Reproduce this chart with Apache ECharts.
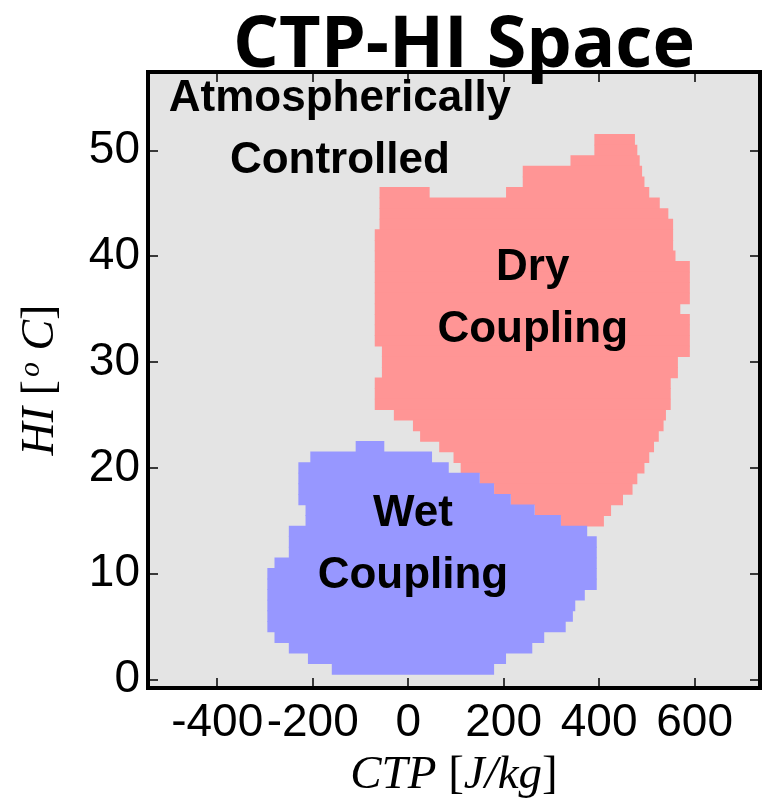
<!DOCTYPE html>
<html>
<head>
<meta charset="utf-8">
<script src="https://cdn.jsdelivr.net/npm/echarts@6/dist/echarts.min.js"></script>
<style>
  html, body { margin: 0; padding: 0; background: #ffffff; }
  #chart { width: 771px; height: 808px; }
</style>
</head>
<body>
<div id="chart"></div>
<script>
// Axis ticks
const ctpTicks = [-400, -200, 0, 200, 400, 600];
const hiTicks = [0, 10, 20, 30, 40, 50];

// Dry-coupling regime, one row per 1 °C HI bin: [HI, CTP start, CTP end]
const dryRows = [
  [51, 390, 475], [50, 390, 480], [49, 340, 485], [48, 240, 490],
  [47, 240, 495], [46, -60, 45], [46, 205, 505], [45, -60, 527],
  [44, -60, 545], [43, -60, 555], [42, -70, 555], [41, -70, 555],
  [40, -70, 560], [39, -70, 590], [38, -70, 590], [37, -70, 590],
  [36, -70, 590], [35, -70, 570], [34, -70, 590], [33, -70, 590],
  [32, -70, 590], [31, -55, 590], [30, -55, 565], [29, -55, 565],
  [28, -70, 550], [27, -70, 550], [26, -70, 550], [25, -30, 540],
  [24, 10, 535], [23, 25, 525], [22, 65, 515], [21, 95, 505],
  [20, 110, 495], [19, 150, 480], [18, 180, 470], [17, 215, 450],
  [16, 265, 425], [15, 320, 410]
];

// Wet-coupling regime: [HI, CTP start, CTP end]
const wetRows = [
  [22, -110, -50], [21, -205, 50], [20, -230, 85], [19, -230, 150],
  [18, -230, 180], [17, -230, 215], [16, -215, 265], [15, -215, 320],
  [14, -250, 375], [13, -250, 395], [12, -250, 395], [11, -280, 395],
  [10, -295, 395], [9, -295, 395], [8, -295, 370], [7, -295, 350],
  [6, -295, 345], [5, -295, 330], [4, -280, 285], [3, -250, 260],
  [2, -210, 205], [1, -160, 180]
];

// Regime names: [text, CTP, HI]
const regimeNotes = [
  ['Atmospherically\nControlled', -143, 51.9],
  ['Dry\nCoupling', 261, 36.0],
  ['Wet\nCoupling', 10, 12.7]
];

const SANS = 'Liberation Sans, Arial, sans-serif';
const SERIF = 'Liberation Serif, Times New Roman, serif';

function rowItem(params, api) {
  const hi = api.value(0);
  const a = api.coord([api.value(1), hi + 0.5]);
  const b = api.coord([api.value(2), hi - 0.5]);
  return {
    type: 'rect',
    shape: { x: a[0], y: a[1] - 0.4, width: b[0] - a[0], height: b[1] - a[1] + 0.8 },
    style: { fill: api.visual('color') }
  };
}

const tickStyle = { lineStyle: { color: '#000', width: 1.5 } };
const noLine = { show: false, onZero: false };

const chart = echarts.init(document.getElementById('chart'), null, { renderer: 'canvas' });
chart.setOption({
  animation: false,
  backgroundColor: '#ffffff',
  title: {
    text: 'CTP-HI Space',
    left: 459,
    textAlign: 'center',
    top: 5,
    textStyle: { fontFamily: 'Open Sans, ' + SANS, fontWeight: 'bold', fontSize: 72, color: '#000' }
  },
  grid: {
    left: 148, right: 11, top: 72, bottom: 120,
    show: true, backgroundColor: '#e4e4e4', borderColor: '#000', borderWidth: 4
  },
  xAxis: [{
    type: 'value', min: -545, max: 737, position: 'bottom',
    axisLine: noLine, splitLine: { show: false },
    axisTick: Object.assign({ inside: true, length: 10, customValues: ctpTicks }, tickStyle),
    axisLabel: { customValues: ctpTicks, fontSize: 46, fontFamily: SANS, color: '#000', margin: 12 },
    name: '{it|CTP }{up|[}{it|J/kg}{up|]}',
    nameLocation: 'middle', nameGap: 64,
    nameTextStyle: {
      color: '#000',
      rich: {
        it: { fontFamily: SERIF, fontStyle: 'italic', fontSize: 47, color: '#000' },
        up: { fontFamily: SERIF, fontSize: 47, color: '#000' }
      }
    }
  }, {
    type: 'value', min: -545, max: 737, position: 'top',
    axisLine: noLine, splitLine: { show: false }, axisLabel: { show: false },
    axisTick: Object.assign({ inside: true, length: 10, customValues: ctpTicks }, tickStyle)
  }],
  yAxis: [{
    type: 'value', min: -0.8, max: 57.4, position: 'left',
    axisLine: noLine, splitLine: { show: false },
    axisTick: Object.assign({ inside: true, length: 10, customValues: hiTicks }, tickStyle),
    axisLabel: { customValues: hiTicks, fontSize: 46, fontFamily: SANS, color: '#000', margin: 8 },
    name: '{it|HI }{up|[}{sup|o}{it| C}{up|]}',
    nameLocation: 'middle', nameGap: 82, nameRotate: 90,
    nameTextStyle: {
      color: '#000',
      rich: {
        it: { fontFamily: SERIF, fontStyle: 'italic', fontSize: 46, lineHeight: 50, color: '#000' },
        up: { fontFamily: SERIF, fontSize: 46, lineHeight: 50, color: '#000' },
        sup: {
          fontFamily: SERIF, fontStyle: 'italic', fontSize: 30, lineHeight: 30,
          verticalAlign: 'top', color: '#000', padding: [0, 0, 0, 3]
        }
      }
    }
  }, {
    type: 'value', min: -0.8, max: 57.4, position: 'right',
    axisLine: noLine, splitLine: { show: false }, axisLabel: { show: false },
    axisTick: Object.assign({ inside: true, length: 10, customValues: hiTicks }, tickStyle)
  }],
  series: [{
    name: 'Dry Coupling', type: 'custom', renderItem: rowItem,
    itemStyle: { color: '#ff9595' },
    encode: { x: [1, 2], y: 0 }, data: dryRows, silent: true
  }, {
    name: 'Wet Coupling', type: 'custom', renderItem: rowItem,
    itemStyle: { color: '#9797ff' },
    encode: { x: [1, 2], y: 0 }, data: wetRows, silent: true
  }, {
    name: 'Regimes', type: 'scatter', symbolSize: 0, z: 5, silent: true,
    itemStyle: { color: 'rgba(0,0,0,0)', opacity: 1 },
    data: regimeNotes.map(n => ({ name: n[0], value: [n[1], n[2]] })),
    label: {
      show: true, position: 'inside', formatter: p => p.name,
      fontFamily: SANS, fontWeight: 'bold', fontSize: 44, lineHeight: 62,
      color: '#000', textBorderWidth: 0, align: 'center'
    }
  }]
});
</script>
</body>
</html>
